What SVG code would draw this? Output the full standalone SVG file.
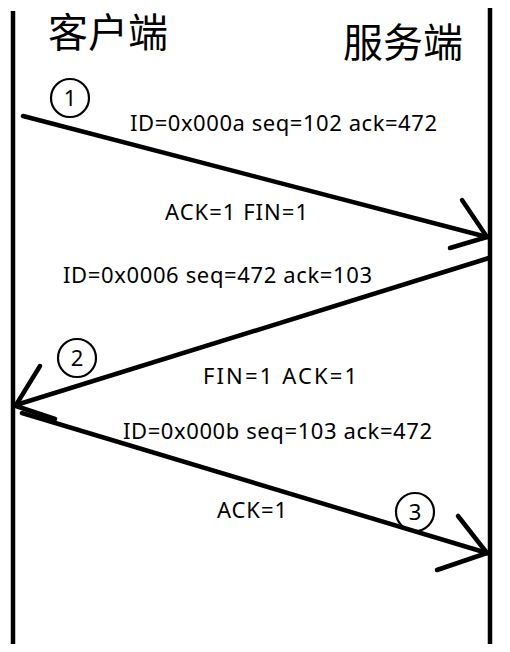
<svg xmlns="http://www.w3.org/2000/svg" width="510" height="652" viewBox="0 0 510 652">
<style>
.ln{stroke:#000;stroke-width:4.5;stroke-linecap:round;fill:none}
.life{stroke:#000;stroke-width:4.5;fill:none}
.t{font-family:"Noto Sans","Open Sans","Liberation Sans",sans-serif;font-size:22px;fill:#000}
.h{font-family:"Noto Sans CJK SC","Noto Sans",sans-serif;font-size:40px;fill:#000}
.c{stroke:#000;stroke-width:2.2;fill:none}
.n{font-family:"Noto Sans","Liberation Sans",sans-serif;font-size:22px;fill:#000;text-anchor:middle}
</style>
<rect width="510" height="652" fill="#fff"/>
<g id="client">
<line class="life" x1="13" y1="11" x2="13" y2="644"/>
<text class="h" x="48" y="47" textLength="120">客户端</text>
</g>
<g id="server">
<line class="life" x1="490" y1="8" x2="490" y2="644"/>
<text class="h" x="343" y="57" textLength="120">服务端</text>
</g>
<g id="connectors">
<line class="ln" x1="23" y1="116" x2="487" y2="237"/>
<line class="ln" x1="462" y1="200" x2="487" y2="237"/>
<line class="ln" x1="450" y1="248" x2="487" y2="237"/>
<line class="ln" x1="489" y1="258" x2="16" y2="405"/>
<line class="ln" x1="40" y1="366" x2="16" y2="405"/>
<line class="ln" x1="16" y1="406" x2="55" y2="419"/>
<line class="ln" x1="22" y1="413" x2="487" y2="553"/>
<line class="ln" x1="458" y1="516" x2="487" y2="553"/>
<line class="ln" x1="437" y1="570" x2="487" y2="553"/>
</g>
<g id="labels">
<text class="t" x="130" y="131" textLength="307">ID=0x000a seq=102 ack=472</text>
<text class="t" x="165" y="220" textLength="143">ACK=1 FIN=1</text>
<text class="t" x="63" y="283" textLength="309">ID=0x0006 seq=472 ack=103</text>
<text class="t" x="203" y="384" textLength="154">FIN=1 ACK=1</text>
<text class="t" x="123" y="439" textLength="309">ID=0x000b seq=103 ack=472</text>
<text class="t" x="217" y="518" textLength="70">ACK=1</text>
</g>
<g id="step1">
<circle class="c" cx="70" cy="98" r="19"/>
<text class="n" x="70" y="106">1</text>
</g>
<g id="step2">
<circle class="c" cx="77" cy="358" r="19"/>
<text class="n" x="77" y="366">2</text>
</g>
<g id="step3">
<circle class="c" cx="415" cy="512" r="19"/>
<text class="n" x="415" y="520">3</text>
</g>
</svg>
